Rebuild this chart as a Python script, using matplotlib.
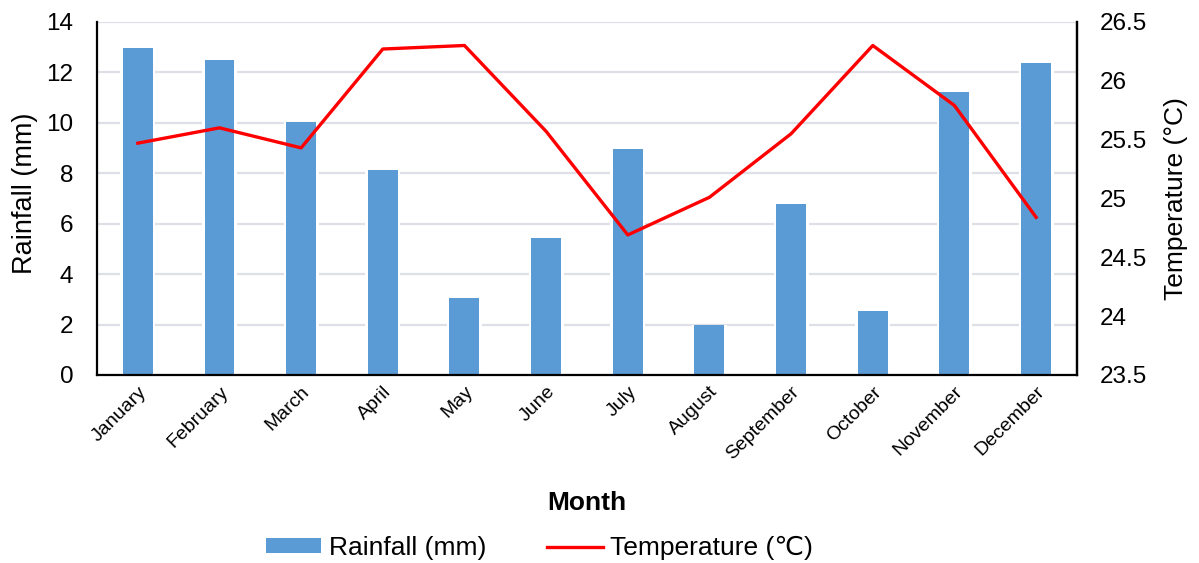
import matplotlib
matplotlib.use("Agg")
import matplotlib.pyplot as plt
from matplotlib.lines import Line2D
from matplotlib.patches import Patch
from matplotlib.transforms import ScaledTranslation

plt.rcParams['font.family'] = ['Liberation Sans', 'DejaVu Sans']

months = ["January", "February", "March", "April", "May", "June", "July",
          "August", "September", "October", "November", "December"]
rainfall = [12.95, 12.5, 10.03, 8.12, 3.04, 5.45, 8.98, 1.98, 6.80, 2.54, 11.22, 12.38]
temperature = [25.47, 25.60, 25.43, 26.27, 26.30, 25.57, 24.69, 25.01, 25.55, 26.30, 25.79, 24.84]
rain_ticks = [0, 2, 4, 6, 8, 10, 12, 14]
temp_ticks = [23.5, 24, 24.5, 25, 25.5, 26, 26.5]

bar_color = "#5B9BD5"
line_color = "#FF0000"
grid_color = "#DDE1E7"

fig = plt.figure(figsize=(11.99, 5.63), dpi=100)
ax = fig.add_axes([0.0809, 0.334, 0.8173, 0.627])
x = list(range(len(months)))

ax.set_axisbelow(True)
ax.yaxis.grid(True, color=grid_color, linewidth=1.6)
# a slightly wider white bar behind each column breaks the gridlines around it
ax.bar(x, rainfall, width=0.43, color="white", linewidth=0, zorder=1.5)
ax.bar(x, rainfall, width=0.367, color=bar_color, linewidth=0, zorder=2)
ax.set_ylim(0, 14)
ax.set_yticks(rain_ticks)
ax.set_xlim(-0.5, 11.5)
ax.set_xticks(x)
ax.set_xticklabels(months, rotation=45, ha="right", rotation_mode="anchor", fontsize=14)
shift = ScaledTranslation(-2 / 72, -3 / 72, fig.dpi_scale_trans)
for lbl in ax.get_xticklabels():
    lbl.set_transform(lbl.get_transform() + shift)
ax.tick_params(axis="both", length=0)
ax.tick_params(axis="y", labelsize=17.5, pad=17)
ax.tick_params(axis="x", pad=6)
ax.set_ylabel("Rainfall (mm)", fontsize=19.5, labelpad=6)
ax.yaxis.label.set_y(0.515)
ax.set_xlabel("Month", fontsize=19, fontweight="bold", labelpad=20)
ax.spines["top"].set_visible(False)
for s in ["left", "bottom", "right"]:
    ax.spines[s].set_linewidth(1.6)
    ax.spines[s].set_color("black")

ax2 = ax.twinx()
ax2.plot(x, temperature, color=line_color, linewidth=2.4, zorder=3)
ax2.set_ylim(23.5, 26.5)
ax2.set_yticks(temp_ticks)
ax2.set_yticklabels([f"{t:g}" for t in temp_ticks])
ax2.tick_params(axis="y", length=0, labelsize=17.5, pad=16.5)
ax2.set_ylabel("Temperature (°C)", fontsize=19, labelpad=12)
ax2.spines["top"].set_visible(False)
ax2.spines["right"].set_linewidth(1.6)
ax2.spines["left"].set_visible(False)
ax2.spines["bottom"].set_visible(False)

handles = [Patch(facecolor=bar_color, edgecolor="none"),
           Line2D([0], [0], color=line_color, linewidth=2.4)]
fig.legend(handles, ["Rainfall (mm)", "Temperature (℃)"], loc="center",
           bbox_to_anchor=(0.45, 0.027), ncol=2, frameon=False, fontsize=19,
           handlelength=2.1, handleheight=0.45, columnspacing=2.3, handletextpad=0.3)

fig.savefig("out.png", dpi=100)
